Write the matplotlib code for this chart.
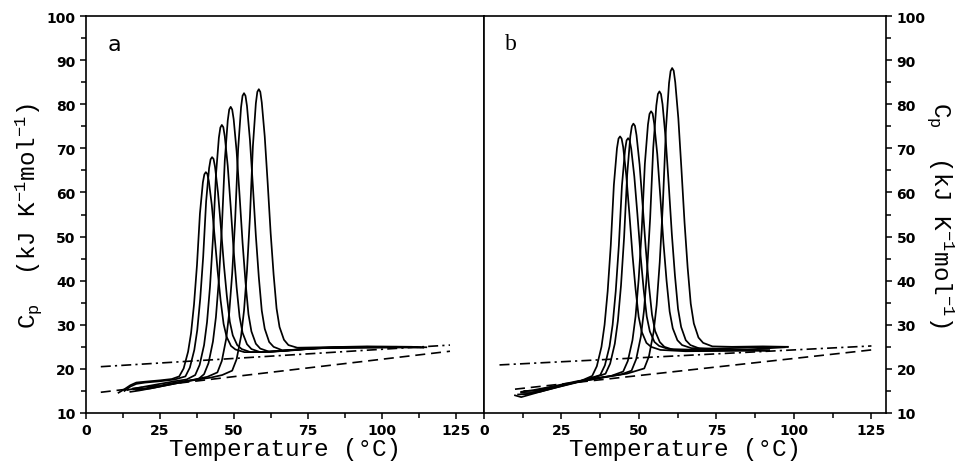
import matplotlib
matplotlib.use('Agg')
import matplotlib.pyplot as plt
from matplotlib.ticker import MultipleLocator

plt.rcParams['mathtext.fontset'] = 'custom'
plt.rcParams['mathtext.rm'] = 'Liberation Mono:weight=normal'
plt.rcParams['mathtext.it'] = 'Liberation Mono:weight=normal'
# tick numbers: bold sans
plt.rcParams['font.family'] = 'DejaVu Sans'
plt.rcParams['font.weight'] = 'bold'
plt.rcParams['xtick.labelsize'] = 10
plt.rcParams['ytick.labelsize'] = 10

# ---- panel a : traces (T in degC, Cp in kJ/K/mol)
a1_T = [11, 13, 15, 17, 20, 25, 29, 31.5, 33, 34.5, 35.5, 36.5, 37.5, 38.5, 39.5, 40, 40.5,
        41, 41.5, 42.5, 43.5, 44.5, 45.5, 46.5, 47.5, 49, 50.5, 53.5, 60, 70, 80, 95, 110, 114]
a1_C = [14.6, 15.4, 16.3, 16.9, 17.1, 17.4, 17.7, 18.3, 20.1, 23.9, 28.1, 34.6, 43.5, 55.2, 62.3, 64.1, 64.6,
        64.2, 62.6, 57.2, 49.8, 42.1, 35.5, 30.2, 27.3, 25.2, 24.4, 23.8, 23.8, 24.3, 24.7, 24.8, 24.9, 24.8]

a2_T = [13, 15, 17, 20, 25, 30, 33.6, 35.1, 36.6, 37.6, 38.6, 39.6, 40.6, 41.6, 42.1, 42.6,
        43.1, 43.6, 44.6, 45.6, 46.6, 47.6, 48.6, 49.6, 51.1, 52.6, 55.6, 62, 72, 82, 100, 112]
a2_C = [15.0, 16.0, 16.6, 16.9, 17.2, 17.6, 18.3, 20.3, 24.3, 28.8, 35.9, 45.4, 58.0, 65.5, 67.5, 68.0,
        67.6, 65.8, 60.0, 52.0, 43.6, 36.5, 30.7, 27.6, 25.4, 24.5, 23.8, 23.9, 24.4, 24.8, 24.9, 24.9]

a3_T = [14, 16, 20, 25, 30, 34, 36.9, 38.4, 39.9, 40.9, 41.9, 42.9, 43.9, 44.9, 45.4, 45.9,
        46.4, 46.9, 47.9, 48.9, 49.9, 50.9, 51.9, 52.9, 54.4, 55.9, 58.9, 65, 75, 85, 100, 110]
a3_C = [15.2, 15.5, 16.0, 16.6, 17.2, 17.6, 18.6, 20.9, 25.4, 30.6, 38.6, 49.5, 63.8, 72.4, 74.7, 75.3,
        74.8, 72.7, 66.0, 56.7, 46.8, 38.5, 31.8, 28.2, 25.6, 24.5, 23.8, 24.0, 24.6, 24.9, 25.0, 25.0]

a4_T = [15, 18, 22, 28, 34, 38, 39.9, 41.4, 42.9, 43.9, 44.9, 45.9, 46.9, 47.9, 48.4, 48.9,
        49.4, 49.9, 50.9, 51.9, 52.9, 53.9, 54.9, 55.9, 57.4, 58.9, 61.9, 68, 78, 90, 105, 113]
a4_C = [14.8, 15.1, 15.6, 16.4, 17.2, 17.7, 18.8, 21.3, 26.2, 31.7, 40.2, 51.9, 67.2, 76.3, 78.8, 79.4,
        78.8, 76.6, 69.3, 59.3, 48.7, 39.7, 32.4, 28.5, 25.7, 24.6, 23.9, 24.1, 24.7, 24.9, 25.0, 24.9]

a5_T = [16, 20, 25, 30, 36, 41, 44.4, 45.9, 47.4, 48.4, 49.4, 50.4, 51.4, 52.4, 52.9, 53.4,
        53.9, 54.4, 55.4, 56.4, 57.4, 58.4, 59.4, 60.4, 61.9, 63.4, 66.4, 72, 80, 95, 110]
a5_C = [15.4, 15.6, 16.2, 16.9, 17.5, 18.2, 19.2, 21.8, 26.9, 32.7, 41.6, 53.7, 69.7, 79.3, 81.9, 82.5,
        81.9, 79.6, 71.9, 61.4, 50.2, 40.8, 33.2, 29.1, 26.1, 25.0, 24.2, 24.4, 24.8, 25.0, 24.9]

a6_T = [17, 22, 28, 35, 42, 46, 49.4, 50.9, 52.4, 53.4, 54.4, 55.4, 56.4, 57.4, 57.9, 58.4,
        58.9, 59.4, 60.4, 61.4, 62.4, 63.4, 64.4, 65.4, 66.9, 68.4, 71.4, 80, 95, 110, 115]
a6_C = [15.2, 15.6, 16.4, 17.3, 18.0, 18.6, 19.6, 22.2, 27.4, 33.2, 42.2, 54.4, 70.5, 80.2, 82.8, 83.4,
        82.8, 80.4, 72.7, 62.1, 50.8, 41.4, 33.7, 29.5, 26.6, 25.4, 24.8, 24.9, 25.1, 25.0, 24.9]

# ---- panel b
b1_T = [10, 12, 14, 20, 26, 31, 34.9, 36.4, 37.9, 38.9, 39.9, 40.9, 41.9, 42.9, 43.4, 43.9,
        44.4, 44.9, 45.9, 46.9, 47.9, 48.9, 49.9, 50.9, 52.4, 53.9, 56.9, 65, 80, 92]
b1_C = [14.0, 13.6, 14.0, 15.2, 16.3, 17.2, 18.4, 20.6, 25.0, 30.0, 37.6, 48.0, 61.7, 70.0, 72.2, 72.7,
        72.2, 70.3, 63.9, 55.2, 45.9, 38.1, 31.8, 28.4, 25.9, 25.0, 24.3, 24.0, 24.1, 24.2]

b2_T = [12, 15, 20, 26, 32, 37.5, 39.0, 40.5, 41.5, 42.5, 43.5, 44.5, 45.5, 46.0, 46.5,
        47.0, 47.5, 48.5, 49.5, 50.5, 51.5, 52.5, 53.5, 55.0, 56.5, 59.5, 70, 85, 97]
b2_C = [14.6, 14.5, 15.3, 16.4, 17.4, 18.6, 20.8, 25.1, 30.0, 37.6, 47.9, 61.5, 69.6, 71.8, 72.3,
        71.8, 69.9, 63.6, 55.0, 45.8, 38.1, 31.9, 28.5, 26.1, 25.2, 24.5, 24.3, 24.4, 24.9]

b3_T = [11, 14, 20, 27, 34, 39.2, 40.7, 42.2, 43.2, 44.2, 45.2, 46.2, 47.2, 47.7, 48.2,
        48.7, 49.2, 50.2, 51.2, 52.2, 53.2, 54.2, 55.2, 56.7, 58.2, 61.2, 70, 82, 92]
b3_C = [14.2, 14.3, 15.4, 16.6, 17.7, 18.9, 21.2, 25.7, 30.9, 38.9, 49.8, 64.1, 72.7, 75.0, 75.6,
        75.1, 73.0, 66.3, 57.0, 47.2, 39.0, 32.3, 28.6, 26.1, 25.0, 24.3, 24.1, 24.2, 24.1]

b4_T = [13, 16, 22, 30, 37, 41, 44.9, 46.4, 47.9, 48.9, 49.9, 50.9, 51.9, 52.9, 53.4, 53.9,
        54.4, 54.9, 55.9, 56.9, 57.9, 58.9, 59.9, 60.9, 62.4, 63.9, 66.9, 75, 88, 98]
b4_C = [15.0, 15.0, 15.9, 17.0, 17.9, 18.4, 19.4, 21.8, 26.5, 31.9, 40.3, 51.6, 66.5, 75.4, 77.8, 78.4,
        77.9, 75.7, 68.7, 58.9, 48.6, 40.0, 33.0, 29.2, 26.5, 25.4, 24.7, 24.6, 24.9, 25.0]

b5_T = [14, 18, 24, 31, 38, 44, 47.6, 49.1, 50.6, 51.6, 52.6, 53.6, 54.6, 55.6, 56.1, 56.6,
        57.1, 57.6, 58.6, 59.6, 60.6, 61.6, 62.6, 63.6, 65.1, 66.6, 69.6, 78, 88, 92]
b5_C = [14.4, 14.8, 15.9, 17.1, 18.0, 18.7, 19.6, 22.2, 27.3, 33.1, 42.0, 54.1, 70.1, 79.7, 82.3, 82.9,
        82.3, 80.0, 72.3, 61.8, 50.6, 41.2, 33.6, 29.5, 26.5, 25.4, 24.6, 24.3, 24.3, 24.2]

b6_T = [12, 16, 22, 30, 38, 46, 51.7, 53.2, 54.7, 55.7, 56.7, 57.7, 58.7, 59.7, 60.2, 60.7,
        61.2, 61.7, 62.7, 63.7, 64.7, 65.7, 66.7, 67.7, 69.2, 70.7, 73.7, 80, 90, 98]
b6_C = [14.8, 15.2, 16.0, 17.2, 18.1, 18.9, 20.1, 22.8, 28.3, 34.5, 44.2, 57.2, 74.4, 84.8, 87.5, 88.2,
        87.6, 85.0, 76.8, 65.3, 53.2, 43.0, 34.8, 30.3, 27.1, 25.9, 25.1, 25.0, 25.1, 25.0]

# reference baselines (end points)
a_dashdot_T = [5, 123]
a_dashdot_C = [20.5, 25.4]
a_dash_T = [5, 123]
a_dash_C = [14.7, 24.0]
b_dashdot_T = [5, 125]
b_dashdot_C = [20.9, 25.2]
b_dash_T = [10, 125]
b_dash_C = [15.4, 24.3]

panel_a = [(a1_T, a1_C), (a2_T, a2_C), (a3_T, a3_C), (a4_T, a4_C), (a5_T, a5_C), (a6_T, a6_C)]
panel_b = [(b1_T, b1_C), (b2_T, b2_C), (b3_T, b3_C), (b4_T, b4_C), (b5_T, b5_C), (b6_T, b6_C)]

W, H = 958, 464
fig = plt.figure(figsize=(W / 100, H / 100), dpi=100)
bot = 1 - 414 / H
hgt = (414 - 17) / H
ax1 = fig.add_axes([86 / W, bot, (484 - 86) / W, hgt])
ax2 = fig.add_axes([484 / W, bot, (886 - 484) / W, hgt])

mono = 'Liberation Mono'
ylab = r'C$_\mathrm{p}$  (kJ K$^{-1}$mol$^{-1}$)'

for ax, curves, dd, dsh, xmax in [
        (ax1, panel_a, (a_dashdot_T, a_dashdot_C), (a_dash_T, a_dash_C), 134.5),
        (ax2, panel_b, (b_dashdot_T, b_dashdot_C), (b_dash_T, b_dash_C), 129.7)]:
    for T, C in curves:
        ax.plot(T, C, color='black', lw=1.25, solid_joinstyle='round')
    ax.plot(dd[0], dd[1], color='black', lw=1.2, dashes=(6, 2.5, 1.3, 2.5))
    ax.plot(dsh[0], dsh[1], color='black', lw=1.2, dashes=(6, 3.5))
    ax.set_xlim(0, xmax)
    ax.set_ylim(10, 100)
    ax.xaxis.set_major_locator(MultipleLocator(25))
    ax.xaxis.set_minor_locator(MultipleLocator(12.5))
    ax.yaxis.set_major_locator(MultipleLocator(10))
    ax.yaxis.set_minor_locator(MultipleLocator(5))
    for s in ax.spines.values():
        s.set_linewidth(1.2)
    ax.tick_params(which='both', direction='out', width=1.1, top=False)
    ax.tick_params(which='major', length=4.5, pad=3)
    ax.tick_params(which='minor', length=3.5)
    ax.set_xlabel('Temperature (°C)', family=mono, weight='normal', fontsize=17.5, labelpad=0)

ax1.tick_params(which='both', left=True, right=False)
ax2.tick_params(which='both', left=False, right=True, labelleft=False, labelright=True)
ax2.yaxis.set_label_position('right')

ax1.set_ylabel(ylab, family=mono, weight='normal', fontsize=17.5, labelpad=2)
ax2.set_ylabel(ylab, family=mono, weight='normal', fontsize=17.5, rotation=270, labelpad=22)

ax1.text(0.055, 0.93, 'a', transform=ax1.transAxes, family='DejaVu Sans', weight='normal',
         fontsize=16, va='center')
ax2.text(0.052, 0.93, 'b', transform=ax2.transAxes, family='Liberation Serif', weight='normal',
         fontsize=17, va='center')

fig.savefig('out.png', dpi=100)
